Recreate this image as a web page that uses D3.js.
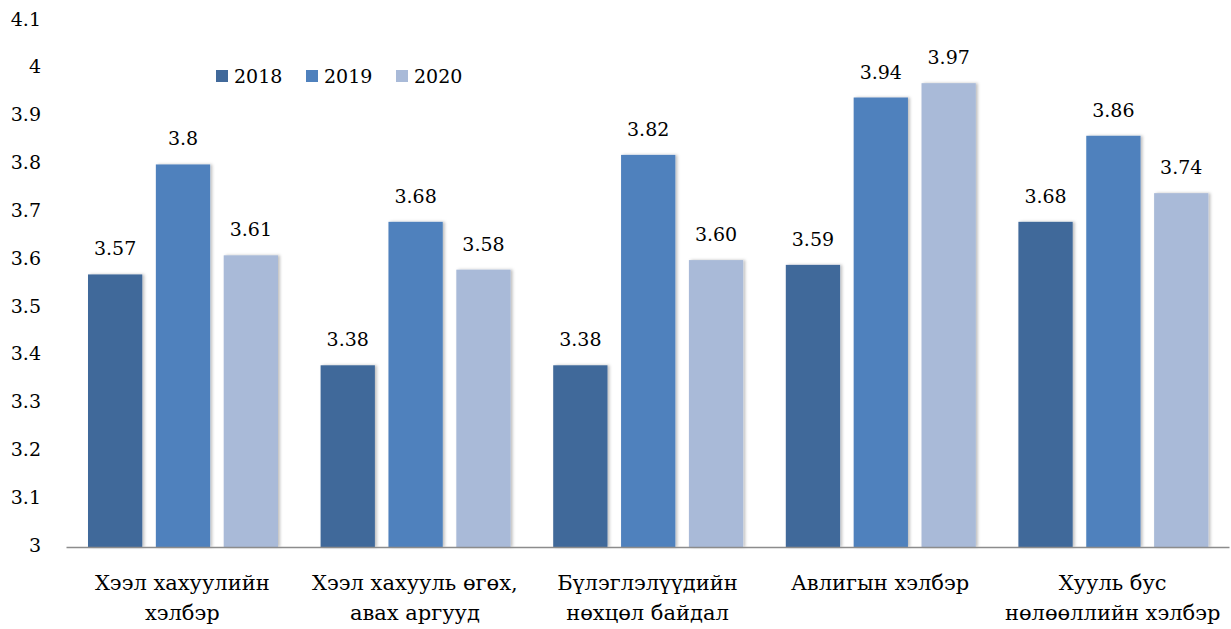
<!DOCTYPE html>
<html>
<head>
<meta charset="utf-8">
<script src="https://cdn.jsdelivr.net/npm/d3@7"></script>
<style>
  body { margin: 0; background: #fff; }
  text { font-family: "Palatino Linotype", "Book Antiqua", Palatino, "DejaVu Serif", serif; fill: #000; }
</style>
</head>
<body>
<div id="chart"></div>
<script>
// Chart data
var categories = [
  ["Хээл хахуулийн", "хэлбэр"],
  ["Хээл хахууль өгөх,", "авах аргууд"],
  ["Бүлэглэлүүдийн", "нөхцөл байдал"],
  ["Авлигын хэлбэр"],
  ["Хууль бус", "нөлөөллийн хэлбэр"]
];
var years = ["2018", "2019", "2020"];
var values2018 = [3.57, 3.38, 3.38, 3.59, 3.68];
var values2019 = [3.8, 3.68, 3.82, 3.94, 3.86];
var values2020 = [3.61, 3.58, 3.60, 3.97, 3.74];
var labels2018 = ["3.57", "3.38", "3.38", "3.59", "3.68"];
var labels2019 = ["3.8", "3.68", "3.82", "3.94", "3.86"];
var labels2020 = ["3.61", "3.58", "3.60", "3.97", "3.74"];
var yTicks = [3, 3.1, 3.2, 3.3, 3.4, 3.5, 3.6, 3.7, 3.8, 3.9, 4, 4.1];
var colors = ["#41699a", "#4f81bd", "#a9bad8"];

var svgWidth = 1231;
var svgHeight = 629;

var svg = d3.select("#chart")
  .append("svg")
  .attr("width", svgWidth)
  .attr("height", svgHeight);

// soft shadow like the office chart style
var defs = svg.append("defs");
var filter = defs.append("filter")
  .attr("id", "shadow")
  .attr("x", "-20%").attr("y", "-5%")
  .attr("width", "150%").attr("height", "110%");
filter.append("feDropShadow")
  .attr("dx", 2).attr("dy", 0)
  .attr("stdDeviation", 1.5)
  .attr("flood-color", "#000")
  .attr("flood-opacity", 0.25);

// Scales
var xScale = d3.scaleBand()
  .domain(d3.range(categories.length))
  .range([66, 1229])
  .padding(0);

var innerScale = d3.scaleBand()
  .domain(years)
  .range([22, 212])
  .paddingInner(0.2)
  .paddingOuter(0);

var yScale = d3.scaleLinear()
  .domain([3, 4.1])
  .range([547, 21]);

// Y axis labels (no line, no ticks)
var leftAxis = d3.axisLeft(yScale)
  .tickValues(yTicks)
  .tickFormat(d3.format("~g"))
  .tickSize(0)
  .tickPadding(0);

var yAxisGroup = svg.append("g")
  .attr("transform", "translate(41, -2)")
  .call(leftAxis);
yAxisGroup.select(".domain").remove();
yAxisGroup.selectAll("text")
  .attr("fill", "#000")
  .style("font-size", "19px");

// Build table for bars
var series = [values2018, values2019, values2020];
var seriesLabels = [labels2018, labels2019, labels2020];
var barData = [];
categories.forEach(function(c, i) {
  years.forEach(function(y, j) {
    barData.push({ cat: i, year: y, idx: j, value: series[j][i], label: seriesLabels[j][i] });
  });
});

var groups = svg.append("g");

groups.selectAll("rect.bar")
  .data(barData)
  .enter()
  .append("rect")
  .attr("class", "bar")
  .attr("x", d => xScale(d.cat) + innerScale(d.year))
  .attr("y", d => yScale(d.value))
  .attr("width", innerScale.bandwidth())
  .attr("height", d => yScale(3) - yScale(d.value))
  .attr("fill", d => colors[d.idx])
  .attr("filter", "url(#shadow)");

groups.selectAll("text.value")
  .data(barData)
  .enter()
  .append("text")
  .attr("class", "value")
  .attr("x", d => xScale(d.cat) + innerScale(d.year) + innerScale.bandwidth() / 2)
  .attr("y", d => yScale(d.value) - 19)
  .attr("text-anchor", "middle")
  .style("font-size", "19px")
  .text(d => d.label);

// X axis line
var bottomAxis = d3.axisBottom(xScale).tickSize(0).tickFormat("");
var xAxisGroup = svg.append("g")
  .attr("transform", "translate(0, 547)")
  .call(bottomAxis);
xAxisGroup.select(".domain")
  .attr("stroke", "#8c8c8c")
  .attr("stroke-width", 1.5);

// Category labels
var catLabels = svg.append("g").selectAll("text.cat")
  .data(categories)
  .enter()
  .append("text")
  .attr("class", "cat")
  .attr("text-anchor", "middle")
  .attr("x", (d, i) => xScale(i) + xScale.bandwidth() / 2)
  .attr("y", 590)
  .style("font-size", "21px");

catLabels.selectAll("tspan")
  .data(d => d)
  .enter()
  .append("tspan")
  .attr("x", function() { return d3.select(this.parentNode).attr("x"); })
  .attr("dy", (d, i) => i === 0 ? 0 : 30)
  .text(d => d);

// Legend
var legend = svg.append("g")
  .attr("transform", "translate(216, 70)");

var legendItems = legend.selectAll("g")
  .data(years)
  .enter()
  .append("g")
  .attr("transform", (d, i) => `translate(${i * 90}, 0)`);

legendItems.append("rect")
  .attr("width", 12)
  .attr("height", 12)
  .attr("fill", (d, i) => colors[i]);

legendItems.append("text")
  .attr("x", 18)
  .attr("y", 13)
  .style("font-size", "19px")
  .text(d => d);
</script>
</body>
</html>
